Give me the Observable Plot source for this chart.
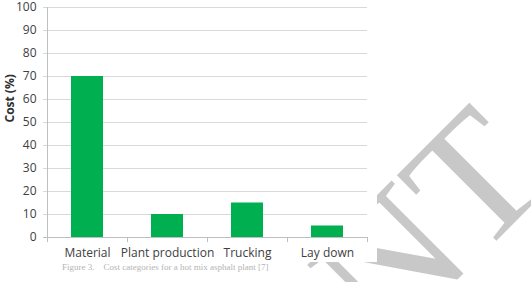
<!DOCTYPE html>
<html><head><meta charset="utf-8">
<script src="https://cdn.jsdelivr.net/npm/d3@7"></script>
<script src="https://cdn.jsdelivr.net/npm/@observablehq/plot@0.6"></script>
<style>
body{margin:0;background:#fff;}
#wrap{position:relative;width:531px;height:282px;overflow:hidden;font-family:"Open Sans",sans-serif;}
#bg{position:absolute;left:0;top:0;}
#chart{position:absolute;left:0;top:0;}
#cap{position:absolute;left:62px;top:263px;font-family:"Liberation Serif",serif;font-size:9px;line-height:9px;color:#b4b4b4;white-space:nowrap;}
</style></head>
<body>
<div id="wrap">
<svg id="bg" width="531" height="282">
  <text x="386" y="351" transform="rotate(-45 386 351)" font-family="Liberation Serif" font-size="178" fill="#c8c8c8">NT</text>
  <rect x="0" y="0" width="377" height="262" fill="#fff"></rect>
</svg>
<div id="chart"></div>
<div id="cap">Figure 3.&nbsp;&nbsp;&nbsp; Cost categories for a hot mix asphalt plant [7]</div>
</div>
<script>
const categories = ["Material", "Plant production", "Trucking", "Lay down"];
const costs = [70, 10, 15, 5];
const yTicks = [0, 10, 20, 30, 40, 50, 60, 70, 80, 90, 100];
const yLabel = "Cost (%)";

const data = categories.map((c, i) => ({category: c, cost: costs[i]}));

const chart = Plot.plot({
  width: 531,
  height: 282,
  marginLeft: 47,
  marginRight: 164,
  marginTop: 7,
  marginBottom: 45,
  style: {background: "transparent", fontFamily: "Open Sans", fontSize: "12px", color: "#404040"},
  x: {domain: categories, paddingInner: 0.6, paddingOuter: 0.3, label: null},
  y: {domain: [0, 100], label: null},
  marks: [
    Plot.ruleY(yTicks.slice(1), {y: d => d, stroke: "#d9d9d9", insetLeft: -4}),
    Plot.ruleX([categories[0]], {x: d => d, dx: -40, stroke: "#bfbfbf"}),
    Plot.barY(data, {x: "category", y: "cost", fill: "#00b050"}),
    Plot.ruleY([0], {y: d => d, stroke: "#bfbfbf", insetLeft: -4}),
    Plot.ruleX(categories, {x: d => d, dx: -40, y1: 0, y2: 0, insetBottom: -5, stroke: "#bfbfbf"}),
    Plot.ruleX([categories[categories.length - 1]], {x: d => d, dx: 40, y1: 0, y2: 0, insetBottom: -5, stroke: "#bfbfbf"}),
    Plot.axisY({ticks: yTicks, tickSize: 0, tickPadding: 11, label: null}),
    Plot.axisX({tickSize: 0, tickPadding: 11, label: null}),
    Plot.text([yLabel], {frameAnchor: "left", dx: -37, rotate: -90, fontWeight: "bold", fontSize: 12, fill: "#303030"})
  ]
});
document.getElementById("chart").appendChild(chart);
</script>
</body></html>
